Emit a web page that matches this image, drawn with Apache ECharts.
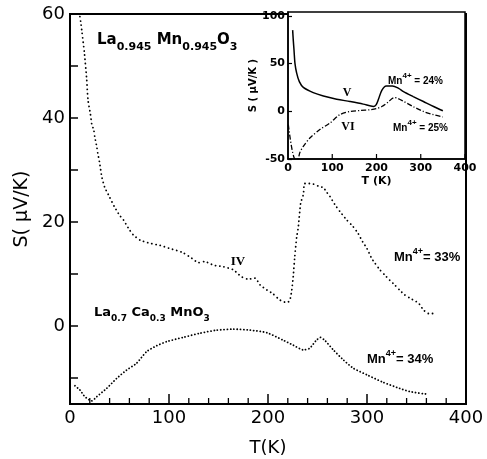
<!DOCTYPE html>
<html>
<head>
<meta charset="utf-8">
<script src="https://cdn.jsdelivr.net/npm/echarts@6/dist/echarts.min.js"></script>
<style>
html,body{margin:0;padding:0;background:#fff;}
#c{width:487px;height:459px;}
</style>
</head>
<body>
<div id="c"></div>
<script>
// ---- Main panel: sample IV, La0.945Mn0.945O3 (Mn4+ = 33%) ----
const tempIV = [10, 10.8, 12, 14.5, 16.8, 18.2, 20.5, 22, 24, 25, 27, 28, 30, 32, 35, 40, 45, 50, 54, 59, 64, 71, 81, 91, 101, 113, 121, 130, 136, 145, 155, 165, 173, 180, 187, 192, 199, 205, 212, 219, 222, 224, 225.5, 227, 229, 230.6, 233, 235.7, 237, 241.7, 245.8, 250.8, 256, 259, 262.6, 267.7, 272.7, 279.5, 286, 291, 295.6, 300, 304.7, 308, 313, 318, 323, 328, 333, 338, 343, 352, 357, 362, 370];
const seebeckIV = [59.5, 58.5, 56.7, 52.6, 47.6, 43.4, 40.9, 38.8, 37.7, 36.4, 34.5, 33.3, 31.3, 28.8, 26.7, 24.8, 22.9, 21.3, 20.4, 18.8, 17.5, 16.5, 15.9, 15.5, 14.9, 14.2, 13.3, 12.2, 12.4, 11.7, 11.4, 10.8, 9.5, 9.0, 9.2, 7.9, 6.9, 6.2, 5.0, 4.5, 4.9, 6.9, 9.5, 13.3, 17.1, 19.0, 23.6, 25.3, 27.4, 27.4, 27.3, 26.9, 26.6, 25.8, 24.9, 23.3, 22.0, 20.4, 19.1, 17.8, 16.2, 14.9, 13.0, 12.1, 10.8, 9.8, 8.8, 7.9, 6.9, 6.0, 5.4, 4.4, 3.1, 2.4, 2.4];

// ---- Main panel: La0.7Ca0.3MnO3 (Mn4+ = 34%) ----
const tempCa = [5, 10, 15, 22, 27, 37, 47, 57, 67, 77.5, 87.5, 97.7, 114, 131, 148, 165, 182, 199, 215, 225.6, 235.7, 242, 249, 253, 257.6, 266, 276, 286, 300, 316, 333, 343, 360];
const seebeckCa = [-11.5, -12.3, -13.6, -14.4, -13.6, -12.0, -10.1, -8.5, -7.2, -4.9, -3.8, -3.0, -2.2, -1.4, -0.8, -0.6, -0.8, -1.3, -2.7, -3.7, -4.6, -4.3, -2.7, -2.2, -2.8, -4.6, -6.5, -8.1, -9.4, -10.8, -12.0, -12.6, -13.1];

// ---- Inset: sample V (Mn4+ = 24%) ----
const tempV = [10.5, 12, 13.6, 15.8, 19.6, 25.6, 34.6, 57, 80, 110, 140, 170, 193, 199, 204, 212, 222, 236, 250, 261, 283, 306, 329, 350];
const seebeckV = [85, 74, 64, 50, 40, 31, 25, 19.5, 16, 12.7, 10.2, 7.5, 5.0, 6.7, 12, 22, 26.5, 26.5, 24, 20.6, 15.4, 10.2, 5.0, 0.5];

// ---- Inset: sample VI (Mn4+ = 25%) ----
const tempVI = [0.7, 16, 22, 27, 35, 50, 72, 95, 117, 140, 163, 185, 200, 212, 225, 240, 247, 262, 285, 306, 328.6, 350];
const seebeckVI = [-14, -50, -50, -43, -36.5, -27.8, -19.2, -12.2, -3.6, -0.2, 0.8, 1.6, 2.8, 5, 9.1, 14.3, 13.7, 10.2, 4.4, -0.2, -3.6, -6];

// ---- Axis ranges, ticks, labels ----
const mainYMin = -15, mainYMax = 60;
const insetYMin = -50, insetYMax = 104;
const mainXMajorTicks = [100, 200, 300];
const mainXMinorTicks = [20, 40, 60, 80, 120, 140, 160, 180, 220, 240, 260, 280, 320, 340, 360, 380];
const mainYLabels = [0, 20, 40, 60];
const mainYTicks = [-10, 0, 10, 20, 30, 40, 50];
const insetXTicks = [100, 200, 300, 400];
const insetYLabels = [-50, 0, 50, 100];

const pairs = (xs, ys) => xs.map((x, i) => [x, ys[i]]);

const chart = echarts.init(document.getElementById('c'), null, {renderer: 'canvas'});

const black = '#000';
const bigFont = 'DejaVu Sans';
const smallFont = 'Liberation Sans';

// Tick marks along a bottom axis, placed through the axis scale
function tickSeries(ticks, xIdx, yIdx, yBase, len, width) {
  return {
    type: 'custom', xAxisIndex: xIdx, yAxisIndex: yIdx, silent: true, clip: false, z: 5,
    data: ticks.map(t => [t, yBase]),
    renderItem: (params, api) => {
      const p = api.coord([api.value(0), api.value(1)]);
      return {type: 'line', shape: {x1: p[0], y1: p[1], x2: p[0], y2: p[1] - len}, style: {stroke: black, lineWidth: width}};
    }
  };
}

const option = {
  animation: false,
  backgroundColor: '#fff',
  textStyle: {fontFamily: bigFont, color: black},
  grid: [
    {left: 70, top: 14, width: 396, height: 390, show: true, borderColor: black, borderWidth: 2, backgroundColor: 'transparent', containLabel: false, outerBoundsMode: 'none'},
    {left: 288, top: 12, width: 177, height: 147, show: true, borderColor: black, borderWidth: 1.5, backgroundColor: '#fff', containLabel: false, outerBoundsMode: 'none'}
  ],
  xAxis: [
    {
      gridIndex: 0, type: 'value', min: 0, max: 400, interval: 100,
      axisLine: {onZero: false, lineStyle: {color: black, width: 2}},
      axisTick: {show: false},
      splitLine: {show: false},
      axisLabel: {color: black, fontSize: 18, margin: 5, fontFamily: bigFont},
      name: 'T(K)', nameLocation: 'middle', nameGap: 35,
      nameTextStyle: {color: black, fontSize: 18, fontFamily: bigFont}
    },
    {
      gridIndex: 1, type: 'value', min: 0, max: 400, interval: 100,
      axisLine: {onZero: false, lineStyle: {color: black, width: 1.5}},
      axisTick: {show: false},
      splitLine: {show: false},
      axisLabel: {color: black, fontSize: 11, fontWeight: 'bold', margin: 4, fontFamily: bigFont},
      name: 'T (K)', nameLocation: 'middle', nameGap: 17,
      nameTextStyle: {color: black, fontSize: 11, fontWeight: 'bold', fontFamily: bigFont}
    }
  ],
  yAxis: [
    {
      gridIndex: 0, type: 'value', min: mainYMin, max: mainYMax,
      axisLine: {onZero: false, lineStyle: {color: black, width: 2}},
      axisTick: {show: true, inside: true, length: 8, lineStyle: {color: black, width: 1.5}, customValues: mainYTicks},
      splitLine: {show: false},
      axisLabel: {color: black, fontSize: 18, margin: 5, fontFamily: bigFont, customValues: mainYLabels},
      name: 'S( μV/K)', nameLocation: 'middle', nameRotate: 90, nameGap: 25,
      nameTextStyle: {color: black, fontSize: 19, fontFamily: bigFont}
    },
    {
      gridIndex: 1, type: 'value', min: insetYMin, max: insetYMax,
      axisLine: {onZero: false, lineStyle: {color: black, width: 1.5}},
      axisTick: {show: true, inside: true, length: 4, lineStyle: {color: black, width: 1.2}, customValues: insetYLabels},
      splitLine: {show: false},
      axisLabel: {color: black, fontSize: 11, fontWeight: 'bold', margin: 3, fontFamily: bigFont, customValues: insetYLabels},
      name: 'S ( μV/K )', nameLocation: 'middle', nameRotate: 90, nameGap: 19,
      nameTextStyle: {color: black, fontSize: 10, fontWeight: 'bold', fontFamily: bigFont}
    }
  ],
  series: [
    {
      name: 'IV', type: 'line', xAxisIndex: 0, yAxisIndex: 0,
      data: pairs(tempIV, seebeckIV), showSymbol: false, smooth: 0.2,
      lineStyle: {color: black, width: 1.8, type: [0.1, 4.2], cap: 'round'}
    },
    {
      name: 'La0.7Ca0.3MnO3', type: 'line', xAxisIndex: 0, yAxisIndex: 0,
      data: pairs(tempCa, seebeckCa), showSymbol: false, smooth: 0.2,
      lineStyle: {color: black, width: 1.8, type: [0.1, 3.2], cap: 'round'}
    },
    {
      name: 'V', type: 'line', xAxisIndex: 1, yAxisIndex: 1,
      data: pairs(tempV, seebeckV), showSymbol: false, smooth: 0.3,
      lineStyle: {color: black, width: 1.5}
    },
    {
      name: 'VI', type: 'line', xAxisIndex: 1, yAxisIndex: 1,
      data: pairs(tempVI, seebeckVI), showSymbol: false, smooth: 0.3,
      lineStyle: {color: black, width: 1.3, type: [5, 2, 1.2, 2]}
    },
    tickSeries(mainXMajorTicks, 0, 0, mainYMin, 10, 1.5),
    tickSeries(mainXMinorTicks, 0, 0, mainYMin, 6, 1.3),
    tickSeries(insetXTicks, 1, 1, insetYMin, 5, 1.2)
  ],
  graphic: [
    {
      type: 'text', x: 97, y: 33, z: 100,
      style: {
        text: '{b|La}{s|0.945}{b| Mn}{s|0.945}{b|O}{s|3}', align: 'left', verticalAlign: 'top',
        rich: {
          b: {fontFamily: bigFont, fontWeight: 'bold', fontSize: 15, padding: [0, 0, 5, 0], verticalAlign: 'bottom', fill: black},
          s: {fontFamily: bigFont, fontWeight: 'bold', fontSize: 11, verticalAlign: 'bottom', fill: black}
        }
      }
    },
    {
      type: 'text', x: 94, y: 306, z: 100,
      style: {
        text: '{b|La}{s|0.7}{b| Ca}{s|0.3}{b| MnO}{s|3}', align: 'left', verticalAlign: 'top',
        rich: {
          b: {fontFamily: bigFont, fontWeight: 'bold', fontSize: 13, padding: [0, 0, 4, 0], verticalAlign: 'bottom', fill: black},
          s: {fontFamily: bigFont, fontWeight: 'bold', fontSize: 9, verticalAlign: 'bottom', fill: black}
        }
      }
    },
    {
      type: 'text', x: 394, y: 247, z: 100,
      style: {
        text: '{b|Mn}{p|4+}{b|= 33%}', align: 'left', verticalAlign: 'top',
        rich: {
          b: {fontFamily: smallFont, fontWeight: 'bold', fontSize: 13, verticalAlign: 'bottom', fill: black},
          p: {fontFamily: smallFont, fontWeight: 'bold', fontSize: 9, padding: [0, 0, 8, 0], verticalAlign: 'bottom', fill: black}
        }
      }
    },
    {
      type: 'text', x: 367, y: 349, z: 100,
      style: {
        text: '{b|Mn}{p|4+}{b|= 34%}', align: 'left', verticalAlign: 'top',
        rich: {
          b: {fontFamily: smallFont, fontWeight: 'bold', fontSize: 13, verticalAlign: 'bottom', fill: black},
          p: {fontFamily: smallFont, fontWeight: 'bold', fontSize: 9, padding: [0, 0, 8, 0], verticalAlign: 'bottom', fill: black}
        }
      }
    },
    {
      type: 'text', x: 238, y: 262, z: 100,
      style: {text: 'IV', align: 'center', verticalAlign: 'middle', fontFamily: 'Liberation Serif', fontWeight: 'bold', fontSize: 13, fill: black}
    },
    {
      type: 'text', x: 388, y: 72, z: 100,
      style: {
        text: '{b|Mn}{p|4+}{b| = 24%}', align: 'left', verticalAlign: 'top',
        rich: {
          b: {fontFamily: smallFont, fontWeight: 'bold', fontSize: 10, verticalAlign: 'bottom', fill: black},
          p: {fontFamily: smallFont, fontWeight: 'bold', fontSize: 8, padding: [0, 0, 6, 0], verticalAlign: 'bottom', fill: black}
        }
      }
    },
    {
      type: 'text', x: 393, y: 119, z: 100,
      style: {
        text: '{b|Mn}{p|4+}{b| = 25%}', align: 'left', verticalAlign: 'top',
        rich: {
          b: {fontFamily: smallFont, fontWeight: 'bold', fontSize: 10, verticalAlign: 'bottom', fill: black},
          p: {fontFamily: smallFont, fontWeight: 'bold', fontSize: 8, padding: [0, 0, 6, 0], verticalAlign: 'bottom', fill: black}
        }
      }
    },
    {
      type: 'text', x: 347, y: 93, z: 100,
      style: {text: 'V', align: 'center', verticalAlign: 'middle', fontFamily: 'Liberation Serif', fontWeight: 'bold', fontSize: 12, fill: black}
    },
    {
      type: 'text', x: 348, y: 127, z: 100,
      style: {text: 'VI', align: 'center', verticalAlign: 'middle', fontFamily: 'Liberation Serif', fontWeight: 'bold', fontSize: 12, fill: black}
    }
  ]
};

chart.setOption(option);
</script>
</body>
</html>
